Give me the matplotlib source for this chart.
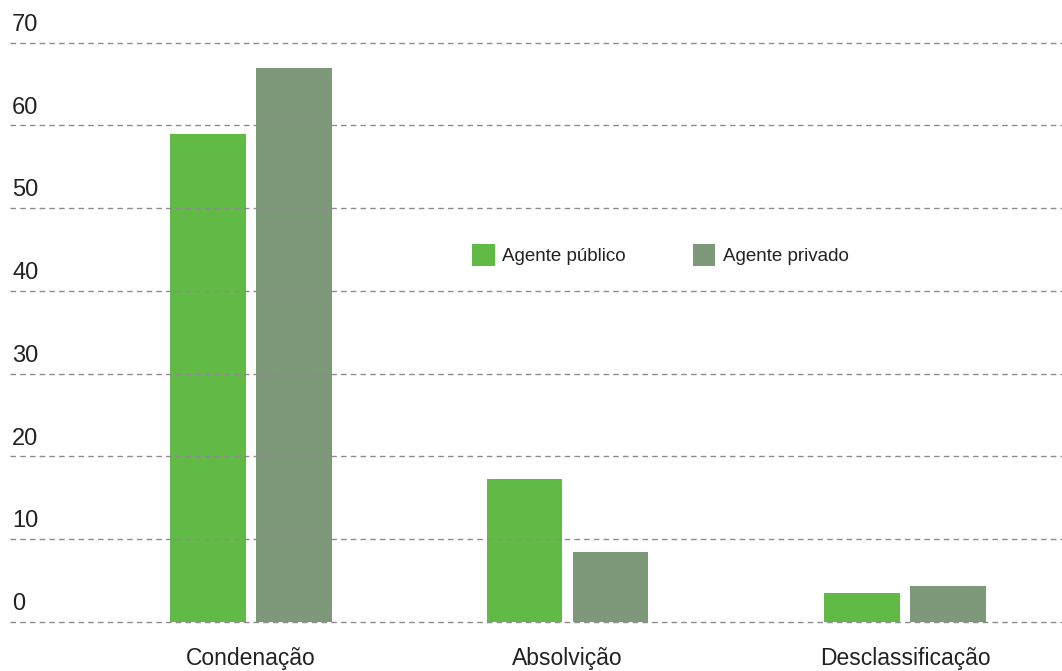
import matplotlib.pyplot as plt
import numpy as np

plt.rcParams['font.family'] = ['Liberation Sans', 'DejaVu Sans']

categories = ['Condenação', 'Absolvição', 'Desclassificação']
publico = [59.0, 17.3, 3.5]
privado = [67.0, 8.4, 4.4]
series_names = ['Agente público', 'Agente privado']
yticks = [0, 10, 20, 30, 40, 50, 60, 70]

GREEN = '#62ba46'
GREY_GREEN = '#7d9979'

fig = plt.figure(figsize=(10.62, 6.71), dpi=100)
ax = fig.add_axes([10 / 1062, 1 - 622 / 671, 1 - 10 / 1062, (622 - 42.7) / 671])

# group centres are not quite evenly spaced in the original
x = np.array([0, 0.968, 2.0])
w = 0.232
off = 0.1315
ax.bar(x - off, publico, w, color=GREEN, label=series_names[0], zorder=1)
ax.bar(x + off, privado, w, color=GREY_GREEN, label=series_names[1], zorder=1)

ax.set_xlim(-0.737, 2.48)
ax.set_ylim(0, 70)

for s in ax.spines.values():
    s.set_visible(False)

ax.set_yticks(yticks)
ax.set_yticklabels([])
ax.tick_params(axis='y', length=0)
ax.set_axisbelow(False)
ax.yaxis.grid(True, color='#8c8c8c', linestyle=(0, (4, 3)), linewidth=1.0, zorder=3)
for gl in ax.get_ygridlines():
    gl.set_clip_on(False)

for t in yticks:
    ax.annotate(str(t), xy=(0, t), xycoords=('axes fraction', 'data'),
                xytext=(1.5, 5), textcoords='offset points',
                ha='left', va='bottom', fontsize=17, color='#222222')

ax.set_xticks(x)
ax.set_xticklabels(categories, fontsize=16.5, color='#222222')
ax.tick_params(axis='x', length=0, pad=18)

fig.legend(loc='upper left', bbox_to_anchor=(472 / 1062, 1 - 244 / 671),
           ncol=2, frameon=False, fontsize=13.5, borderpad=0, borderaxespad=0,
           handlelength=1.22, handleheight=1.45, handletextpad=0.4,
           columnspacing=3.55, labelcolor='#222222')

fig.savefig('out.png', dpi=100)
